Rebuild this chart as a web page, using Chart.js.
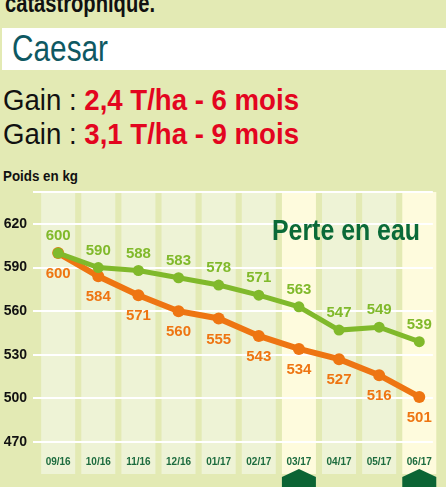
<!DOCTYPE html>
<html>
<head>
<meta charset="utf-8">
<script src="https://cdn.jsdelivr.net/npm/chart.js@4"></script>
<style>
  html, body { margin: 0; padding: 0; }
  body { width: 446px; height: 487px; overflow: hidden; position: relative;
         background: #e3eab4; font-family: "Liberation Sans", Arial, sans-serif; }
  .abs { position: absolute; white-space: nowrap; transform-origin: 0 0; }
  #top { left: 5px; top: -11px; font-size: 25px; font-weight: bold; color: #111; }
  #box { left: 2px; top: 28px; width: 444px; height: 42px; background: #fff; }
  #name { left: 12px; top: 28px; font-size: 36px; color: #0e5862; }
  .gain { left: 3px; font-size: 30px; color: #111; }
  .gain b { color: #e3051f; }
  #g1 { top: 83px; }
  #g2 { top: 117px; }
  #unit { left: 3px; top: 168px; font-size: 14px; font-weight: bold; color: #111; }
  #perte { left: 272px; top: 214px; font-size: 29px; font-weight: bold; color: #0a6a38; }
  #wrap { position: absolute; left: 0; top: 160px; width: 446px; height: 327px; }
</style>
</head>
<body>
<div class="abs" id="top">catastrophique.</div>
<div class="abs" id="box"></div>
<div class="abs" id="name">Caesar</div>
<div class="abs gain" id="g1">Gain : <b>2,4 T/ha - 6 mois</b></div>
<div class="abs gain" id="g2">Gain : <b>3,1 T/ha - 9 mois</b></div>
<div class="abs" id="unit">Poids en kg</div>
<div id="wrap"><canvas id="c"></canvas></div>
<div class="abs" id="perte">Perte en eau</div>
<script>
// Poids des animaux (kg) par mois
const months  = ['09/16', '10/16', '11/16', '12/16', '01/17', '02/17', '03/17', '04/17', '05/17', '06/17'];
const avec    = [600, 590, 588, 583, 578, 571, 563, 547, 549, 539];   // courbe verte
const sans    = [600, 584, 571, 560, 555, 543, 534, 527, 516, 501];   // courbe orange
const yTicks  = [470, 500, 530, 560, 590, 620];
const yellowCols = ['03/17', '06/17'];

const GREEN  = '#80b92b';
const ORANGE = '#ee7512';
const FONT   = '"Liberation Sans", Arial, sans-serif';

// le texte de la maquette est en police étroite : on resserre horizontalement
function narrow(id, w) {
  const el = document.getElementById(id);
  el.style.transform = `scaleX(${w / el.getBoundingClientRect().width})`;
}
narrow('top', 150);
narrow('name', 96);
narrow('g1', 296);
narrow('g2', 296);
narrow('unit', 75);
narrow('perte', 148);

// Colonnes claires derrière chaque mois + onglets verts en bas
const bands = {
  id: 'bands',
  beforeDraw(chart) {
    const { ctx, chartArea: a, scales: { x } } = chart;
    ctx.save();
    months.forEach((m, i) => {
      const cx = x.getPixelForValue(i);
      ctx.fillStyle = yellowCols.includes(m) ? '#fefbdd' : '#eef3d6';
      ctx.fillRect(cx - 17, a.top, 34, 474 - 160 - a.top);
      if (yellowCols.includes(m)) {
        const t = 469 - 160;
        ctx.fillStyle = '#0b6434';
        ctx.beginPath();
        ctx.moveTo(cx, t);
        ctx.lineTo(cx + 17, t + 8);
        ctx.lineTo(cx + 17, t + 30);
        ctx.lineTo(cx - 17, t + 30);
        ctx.lineTo(cx - 17, t + 8);
        ctx.closePath();
        ctx.fill();
      }
    });
    ctx.restore();
  }
};

// Valeurs au-dessus (vert) et en dessous (orange) des points
const values = {
  id: 'values',
  afterDatasetsDraw(chart) {
    const { ctx } = chart;
    ctx.save();
    ctx.font = 'bold 15px ' + FONT;
    ctx.textAlign = 'center';
    ctx.textBaseline = 'middle';
    chart.data.datasets.forEach((ds, di) => {
      const meta = chart.getDatasetMeta(di);
      meta.data.forEach((pt, i) => {
        ctx.fillStyle = ds.borderColor;
        const dy = ds.label === 'avec' ? -17 : 21;
        ctx.fillText(String(ds.data[i].y), pt.x, pt.y + dy);
      });
    });
    ctx.restore();
  }
};

new Chart(document.getElementById('c'), {
  type: 'line',
  data: {
    datasets: [
      { label: 'avec', data: avec.map((v, i) => ({ x: i, y: v })),
        borderColor: GREEN, backgroundColor: GREEN, borderWidth: 5,
        pointRadius: 5.5, pointBorderWidth: 0, tension: 0 },
      { label: 'sans', data: sans.map((v, i) => ({ x: i, y: v })),
        borderColor: ORANGE, backgroundColor: ORANGE, borderWidth: 6,
        pointRadius: 6, pointBorderWidth: 0, tension: 0 }
    ]
  },
  options: {
    responsive: true, maintainAspectRatio: false, animation: false,
    layout: { padding: { top: 32, right: 0, left: 0, bottom: 0 } },
    plugins: { legend: { display: false }, tooltip: { enabled: false } },
    scales: {
      x: {
        type: 'linear', min: -0.627, max: 9.338,
        afterBuildTicks: s => { s.ticks = months.map((m, i) => ({ value: i })); },
        afterFit: s => { s.height = 45; },
        grid: { display: false, drawTicks: false },
        border: { display: false },
        ticks: { autoSkip: false, maxRotation: 0, padding: 14, color: '#1d6c3f',
                 font: { family: FONT, weight: 'bold', size: 10 },
                 callback: v => months[v] }
      },
      y: {
        min: 470, max: 642,
        afterBuildTicks: s => { s.ticks = yTicks.concat([642]).map(v => ({ value: v })); },
        afterFit: s => { s.width = 33; },
        grid: { color: '#ffffff', lineWidth: 2, drawTicks: false },
        border: { display: false },
        ticks: { padding: 6, color: '#111',
                 font: { family: FONT, weight: 'bold', size: 14 },
                 callback: v => yTicks.includes(v) ? v : '' }
      }
    }
  },
  plugins: [bands, values]
});
</script>
</body>
</html>
